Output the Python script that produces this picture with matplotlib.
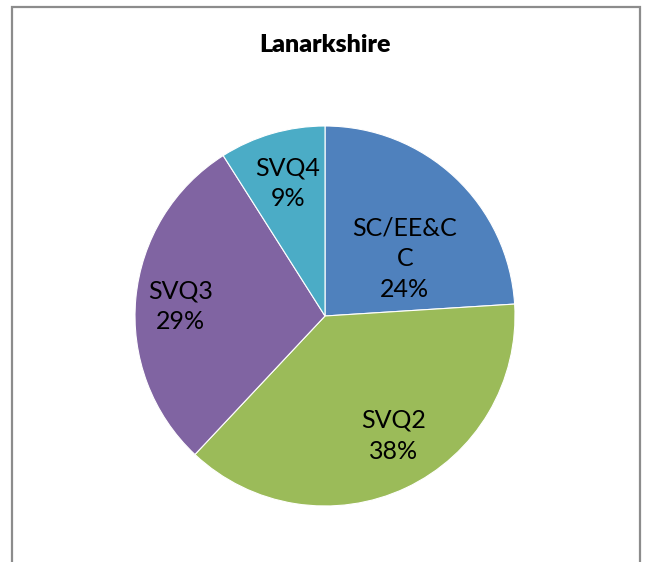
import matplotlib.pyplot as plt
from matplotlib.patches import Rectangle

plt.rcParams['font.family'] = ['Lato', 'DejaVu Sans']

# data
labels = ['SC/EE&C\nC', 'SVQ2', 'SVQ3', 'SVQ4']
values = [24, 38, 29, 9]
colors = ['#4F81BD', '#9BBB59', '#8064A2', '#4BACC6']
# label positions in pie units (centre 0,0, radius 1)
label_pos = [(0.42, 0.30), (0.36, -0.63), (-0.76, 0.05), (-0.195, 0.70)]

fig = plt.figure(figsize=(6.45, 5.62), dpi=100)

# chart frame (bottom edge is cut off in the original)
fig.patches.append(Rectangle((11.5 / 645, -0.05), 628 / 645, 1.05 - 6.5 / 562,
                             transform=fig.transFigure, fill=False,
                             edgecolor='#8c8c8c', linewidth=1.6))

ax = fig.add_axes([(325 - 190) / 645, (562 - 316 - 190) / 562, 380 / 645, 380 / 562])
wedges, _ = ax.pie(values, colors=colors, startangle=90, counterclock=False,
                   radius=1, wedgeprops=dict(edgecolor='white', linewidth=0.8))
ax.set_xlim(-1, 1)
ax.set_ylim(-1, 1)
ax.set_aspect('equal')

for lab, v, (x, y) in zip(labels, values, label_pos):
    ax.text(x, y, f'{lab}\n{v}%', ha='center', va='center', fontsize=18,
            linespacing=1.42, color='black')

fig.text(325 / 645, 1 - 45 / 562, 'Lanarkshire', ha='center', va='center',
         fontsize=18, fontweight='heavy')

fig.savefig('out.png', dpi=100)
